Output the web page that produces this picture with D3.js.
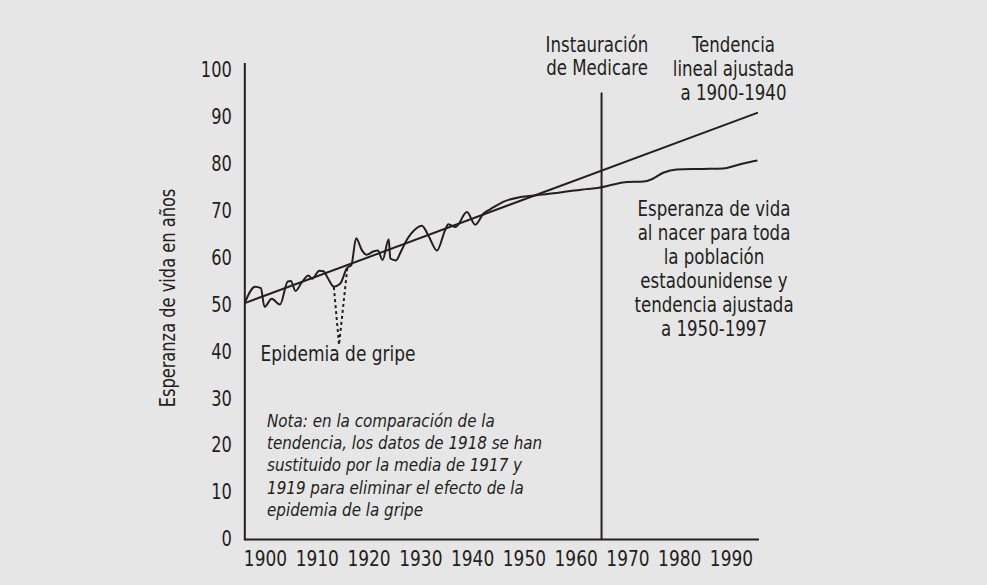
<!DOCTYPE html>
<html>
<head>
<meta charset="utf-8">
<script src="https://cdn.jsdelivr.net/npm/d3@7"></script>
<style>
  html, body { margin: 0; padding: 0; background: #e6e6e6; }
  svg { display: block; }
  text { font-family: "Liberation Sans Narrow", "DejaVu Sans Condensed", "Arial Narrow", sans-serif; fill: #231f20; }
</style>
</head>
<body>
<svg id="chart" width="987" height="585"></svg>
<script>
// ---- Data ----
const years = [1896.1, 1898.1, 1899.2, 1899.9, 1901.3, 1902.9, 1904.4, 1905.0, 1905.9, 1907.1,
  1908.4, 1909.1, 1910.5, 1911.3, 1912.1, 1913.3, 1914.5, 1915.8, 1916.7, 1917.6,
  1918.7, 1919.6, 1920.9, 1921.8, 1922.7, 1923.9, 1924.2, 1925.3, 1926.3, 1927.4,
  1928.3, 1930.3, 1931.6, 1933.2, 1934.8, 1935.4, 1936.8, 1939.0, 1940.6, 1942.2,
  1943.5, 1946.0, 1949.3, 1952.5, 1955.7, 1958.9, 1962.1, 1964.5, 1967.3, 1969.9,
  1973.1, 1974.7, 1976.9, 1979.5, 1984.7, 1988.5, 1991.1, 1993.7, 1995.1];
const lifeExpectancy = [50.4, 53.8, 53.5, 49.5, 51.2, 50.0, 54.9, 55.0, 52.9, 54.7,
  56.2, 55.5, 57.2, 57.1, 55.7, 53.8, 54.4, 57.7, 58.5, 64.1,
  61.6, 60.6, 61.3, 61.5, 59.5, 63.9, 59.8, 59.4, 61.4, 63.8,
  65.2, 66.8, 64.6, 61.5, 65.9, 67.1, 66.5, 69.7, 67.0, 69.4,
  70.3, 71.9, 72.9, 73.3, 73.7, 74.2, 74.6, 74.9, 75.6, 76.1,
  76.2, 76.7, 78.1, 78.8, 78.9, 79.0, 79.7, 80.4, 80.7];
const fluYears = [1913.3, 1914.3, 1915.9];
const fluValues = [53.7, 41.4, 57.8];
const trendYears = [1896.1, 1995.2];
const trendValues = [50.3, 90.9];
const medicareYear = 1965;
const medicareRange = [0, 95.2];
const xTicks = [1900, 1910, 1920, 1930, 1940, 1950, 1960, 1970, 1980, 1990];
const yTicks = [0, 10, 20, 30, 40, 50, 60, 70, 80, 90, 100];
const xAxisExtent = [1896.1, 1995.4];
const yAxisExtent = [0, 101.5];
const yTitle = "Esperanza de vida en años";
const medicareLabel = ["Instauración", "de Medicare"];
const trendLabel = ["Tendencia", "lineal ajustada", "a 1900-1940"];
const seriesLabel = ["Esperanza de vida", "al nacer para toda", "la población", "estadounidense y", "tendencia ajustada", "a 1950-1997"];
const fluLabel = "Epidemia de gripe";
const noteLines = ["Nota: en la comparación de la", "tendencia, los datos de 1918 se han",
  "sustituido por la media de 1917 y", "1919 para eliminar el efecto de la", "epidemia de la gripe"];

// ---- Drawing ----
const ink = "#231f20";
const SX = 0.88;      // horizontal compression to imitate the condensed face
const svg = d3.select("#chart");
svg.append("rect").attr("width", 987).attr("height", 585).attr("fill", "#e6e6e6");

const x = d3.scaleLinear().domain([1900, 1990]).range([265, 731]);
const y = d3.scaleLinear().domain([0, 100]).range([539, 70]);

// axes
const xAxis = svg.append("g").attr("transform", `translate(0,${y(0)})`)
  .call(d3.axisBottom(x).tickValues(xTicks).tickFormat(d3.format("d")).tickSize(0).tickPadding(12));
xAxis.select(".domain").remove();
xAxis.selectAll("text").attr("font-size", 21).style("font-family", null)
  .attr("transform", "scale(0.9,1)");

const yAxis = svg.append("g").attr("transform", `translate(${x(xAxisExtent[0])},0)`)
  .call(d3.axisLeft(y).tickValues(yTicks).tickFormat(d3.format("d")).tickSize(0).tickPadding(13));
yAxis.select(".domain").remove();
yAxis.selectAll("text").attr("font-size", 21).style("font-family", null)
  .attr("x", -13 / 0.86).attr("transform", "scale(0.86,1)");

svg.append("line")
  .attr("x1", x(xAxisExtent[0])).attr("x2", x(xAxisExtent[1]))
  .attr("y1", y(0) + 0.5).attr("y2", y(0) + 0.5)
  .attr("stroke", ink).attr("stroke-width", 2);
svg.append("line")
  .attr("x1", x(xAxisExtent[0])).attr("x2", x(xAxisExtent[0]))
  .attr("y1", y(yAxisExtent[0]) + 1.5).attr("y2", y(yAxisExtent[1]))
  .attr("stroke", ink).attr("stroke-width", 2);

// Medicare line
svg.append("line")
  .attr("x1", x(medicareYear)).attr("x2", x(medicareYear))
  .attr("y1", y(medicareRange[0])).attr("y2", y(medicareRange[1]))
  .attr("stroke", ink).attr("stroke-width", 2);

// trend line
const trend = trendYears.map((d, i) => [d, trendValues[i]]);
svg.append("path").datum(trend)
  .attr("d", d3.line().x(d => x(d[0])).y(d => y(d[1])))
  .attr("fill", "none").attr("stroke", ink).attr("stroke-width", 2);

// life expectancy
const series = years.map((d, i) => [d, lifeExpectancy[i]]);
svg.append("path").datum(series)
  .attr("d", d3.line().x(d => x(d[0])).y(d => y(d[1])).curve(d3.curveMonotoneX))
  .attr("fill", "none").attr("stroke", ink).attr("stroke-width", 2).attr("stroke-linejoin", "round");

// flu (dotted)
const flu = fluYears.map((d, i) => [d, fluValues[i]]);
svg.append("path").datum(flu)
  .attr("d", d3.line().x(d => x(d[0])).y(d => y(d[1])))
  .attr("fill", "none").attr("stroke", ink).attr("stroke-width", 2).attr("stroke-dasharray", "3,3");

// text blocks
function block(lines, cx, y0, dy, opts = {}) {
  const g = svg.append("g")
    .attr("transform", `translate(${cx},${y0}) scale(${opts.sx || SX},1)`);
  const t = g.append("text").attr("font-size", opts.size || 21)
    .attr("text-anchor", opts.anchor || "middle");
  if (opts.italic) t.attr("font-style", "italic");
  lines.forEach((s, i) => t.append("tspan").attr("x", 0).attr("y", i * dy).text(s));
}
block(medicareLabel, 597, 52, 23.5);
block(trendLabel, 733.5, 52, 24);
block(seriesLabel, 714, 216, 24);
block([fluLabel], 338, 361, 24, { sx: 0.9 });
block(noteLines, 267, 427, 22.2, { anchor: "start", italic: true, size: 17, sx: 0.99 });

svg.append("text").attr("font-size", 21.5).attr("text-anchor", "middle")
  .attr("transform", "translate(175,298) rotate(-90) scale(0.84,1)").text(yTitle);
</script>
</body>
</html>
